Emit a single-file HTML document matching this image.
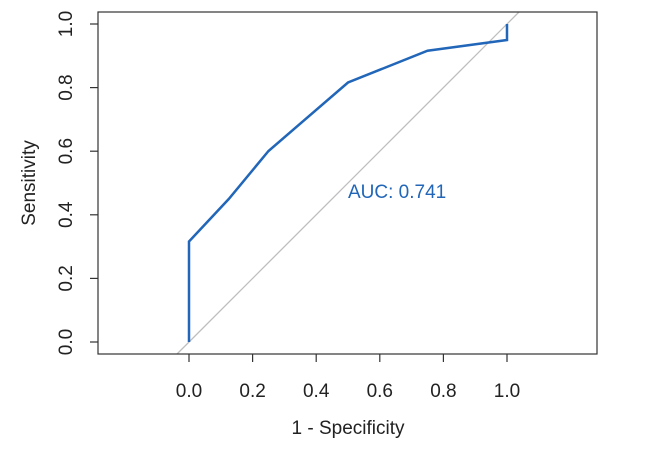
<!DOCTYPE html>
<html><head><style>body{margin:0;background:#fff;}svg{display:block;}</style></head>
<body>
<svg width="648" height="453" xmlns="http://www.w3.org/2000/svg" font-family="Liberation Sans, sans-serif">
<rect width="648" height="453" fill="#fff"/>
<line x1="177" y1="354" x2="519" y2="12" stroke="#bebebe" stroke-width="1.3"/>
<polyline points="189,342 189,241.5 228.75,199 268.5,151 348,82.5 427.5,50.7 507,40 507,24" fill="none" stroke="#2166b8" stroke-width="2.5"/>
<rect x="98" y="12" width="499" height="342" fill="none" stroke="#333" stroke-width="1.2"/>
<g stroke="#333" stroke-width="1.2">
<line x1="189" y1="354" x2="189" y2="362"/><line x1="252.6" y1="354" x2="252.6" y2="362"/><line x1="316.2" y1="354" x2="316.2" y2="362"/><line x1="379.8" y1="354" x2="379.8" y2="362"/><line x1="443.4" y1="354" x2="443.4" y2="362"/><line x1="507" y1="354" x2="507" y2="362"/>
<line x1="90" y1="342" x2="98" y2="342"/><line x1="90" y1="278.4" x2="98" y2="278.4"/><line x1="90" y1="214.8" x2="98" y2="214.8"/><line x1="90" y1="151.2" x2="98" y2="151.2"/><line x1="90" y1="87.6" x2="98" y2="87.6"/><line x1="90" y1="24" x2="98" y2="24"/>
</g>
<g font-size="19" fill="#222" text-anchor="middle">
<text x="189" y="397">0.0</text><text x="252.6" y="397">0.2</text><text x="316.2" y="397">0.4</text><text x="379.8" y="397">0.6</text><text x="443.4" y="397">0.8</text><text x="507" y="397">1.0</text>
<text transform="translate(72,342) rotate(-90)">0.0</text>
<text transform="translate(72,278.4) rotate(-90)">0.2</text>
<text transform="translate(72,214.8) rotate(-90)">0.4</text>
<text transform="translate(72,151.2) rotate(-90)">0.6</text>
<text transform="translate(72,87.6) rotate(-90)">0.8</text>
<text transform="translate(72,24) rotate(-90)">1.0</text>
<text x="348" y="434">1 - Specificity</text>
<text transform="translate(35,183) rotate(-90)">Sensitivity</text>
</g>
<text x="348" y="198" font-size="19" fill="#2166b8">AUC: 0.741</text>
</svg>
</body></html>
